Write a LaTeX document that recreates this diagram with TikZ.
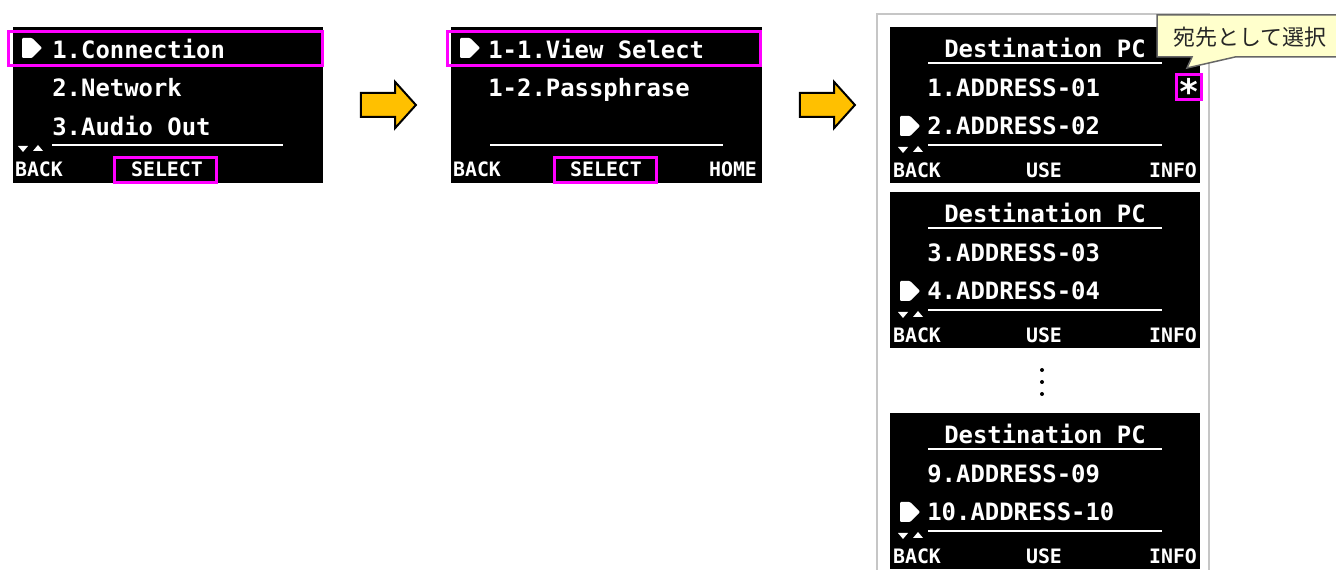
\documentclass[tikz,border=0pt]{standalone}
\usepackage{fontspec}
\usepackage{tikz}
\usetikzlibrary{shapes.arrows}
\newfontfamily\lcdfont{DejaVu Sans Mono}
\newfontfamily\jpfont{Noto Sans CJK JP}
\definecolor{pink}{HTML}{FF00FF}
\definecolor{goyellow}{HTML}{FFC000}
\definecolor{tipfill}{HTML}{FFFFCC}
\tikzset{
  lcdrow/.style={text=white,inner sep=0,anchor=base west,font=\lcdfont\bfseries\fontsize{13.6}{14}\selectfont},
  softkey/.style={text=white,inner sep=0,anchor=base,font=\lcdfont\bfseries\fontsize{11.3}{12}\selectfont},
  hilite/.style={draw=pink,line width=0.06cm},
  sepline/.style={draw=white,line width=0.04cm},
  flow/.style={single arrow,draw=black,fill=goyellow,line width=0.04cm,inner xsep=0,inner ysep=0.22cm,
    minimum height=1.1cm,single arrow head extend=0.22cm,single arrow tip angle=96},
  selmark/.pic={\fill [white,rounded corners=0.6pt] (0,0) -- (10,0) -- (20,10) -- (10,20) -- (0,20) -- cycle;},
  scrollmark/.pic={\fill [white] (0,1) -- (10,1) -- (5,7) -- cycle;
    \fill [white] (15,6) -- (25,6) -- (20,0) -- cycle;}
}

\begin{document}
\begin{tikzpicture}[x=0.02cm,y=-0.02cm]
\useasboundingbox (0,0) rectangle (1336,570);
% menu screen
\fill [black] (13,27) rectangle (323,183);
\node [lcdrow] (conn) at (52,59) {1.Connection};
\node [lcdrow] (netw) at (52,97) {2.Network};
\node [lcdrow] (audio) at (52,136) {3.Audio Out};
\draw [sepline] (52,145) -- (283,145);
\pic at (22,38) {selmark};
\pic at (18,145) {scrollmark};
\node [softkey] (back1) at (39,177) {BACK};
\node [softkey] (sel1) at (167,177) {SELECT};
\draw [hilite] (8.5,31.5) rectangle (322.5,65.5);
\draw [hilite] (114.5,157.5) rectangle (216.5,182.5);
% connection screen
\fill [black] (451,27) rectangle (762,183);
\node [lcdrow] (view) at (488,59) {1-1.View Select};
\node [lcdrow] (pass) at (488,97) {1-2.Passphrase};
\draw [sepline] (490,145) -- (723,145);
\pic at (460,38) {selmark};
\node [softkey] (back2) at (477,177) {BACK};
\node [softkey] (sel2) at (606,177) {SELECT};
\node [softkey] (home2) at (733,177) {HOME};
\draw [hilite] (447.5,31.5) rectangle (760.5,65.5);
\draw [hilite] (554.5,157.5) rectangle (656.5,182.5);
% arrows
\node [flow] (go1) at (383,105) {};
\node [flow] (go2) at (822,105) {};
% destination list
\draw [gray!45,line width=0.03cm] (877,580) -- (877,14) -- (1209,14) -- (1209,580);
\foreach \dy/\addrA/\addrB in {0/1.ADDRESS-01/2.ADDRESS-02,165/3.ADDRESS-03/4.ADDRESS-04,386/9.ADDRESS-09/10.ADDRESS-10} {
  \fill [black] (890,{27+\dy}) rectangle (1200,{183+\dy});
  \node [lcdrow,anchor=base] (dest\dy) at (1045,{58+\dy}) {Destination PC};
  \draw [sepline] (928,{63+\dy}) -- (1162,{63+\dy});
  \node [lcdrow] (first\dy) at (927,{97+\dy}) {\addrA};
  \node [lcdrow] (second\dy) at (927,{135+\dy}) {\addrB};
  \draw [sepline] (928,{145+\dy}) -- (1162,{145+\dy});
  \pic at (900,{116+\dy}) {selmark};
  \pic at (898,{146+\dy}) {scrollmark};
  \node [softkey] (back\dy) at (917,{178+\dy}) {BACK};
  \node [softkey] (use\dy) at (1044,{178+\dy}) {USE};
  \node [softkey] (info\dy) at (1173,{178+\dy}) {INFO};
}
\node [lcdrow,anchor=base,font=\lcdfont\bfseries\fontsize{20}{20}\selectfont] (star) at (1189,105) {*};
\draw [hilite] (1176.5,74.5) rectangle (1201.5,99.5);
\foreach \y in {370,382,394} \fill (1042,\y) circle (2);
% callout
\draw [gray!80!black,fill=tipfill,line width=0.03cm] (1157,15) -- (1345,15) -- (1345,57) -- (1235,57)
  -- (1187,68) -- (1192,57) -- (1157,57) -- cycle;
\node [font=\jpfont\fontsize{12.5}{13}\selectfont,text=black!85,inner sep=0] (note) at (1250,37) {宛先として選択};
\end{tikzpicture}
\end{document}
